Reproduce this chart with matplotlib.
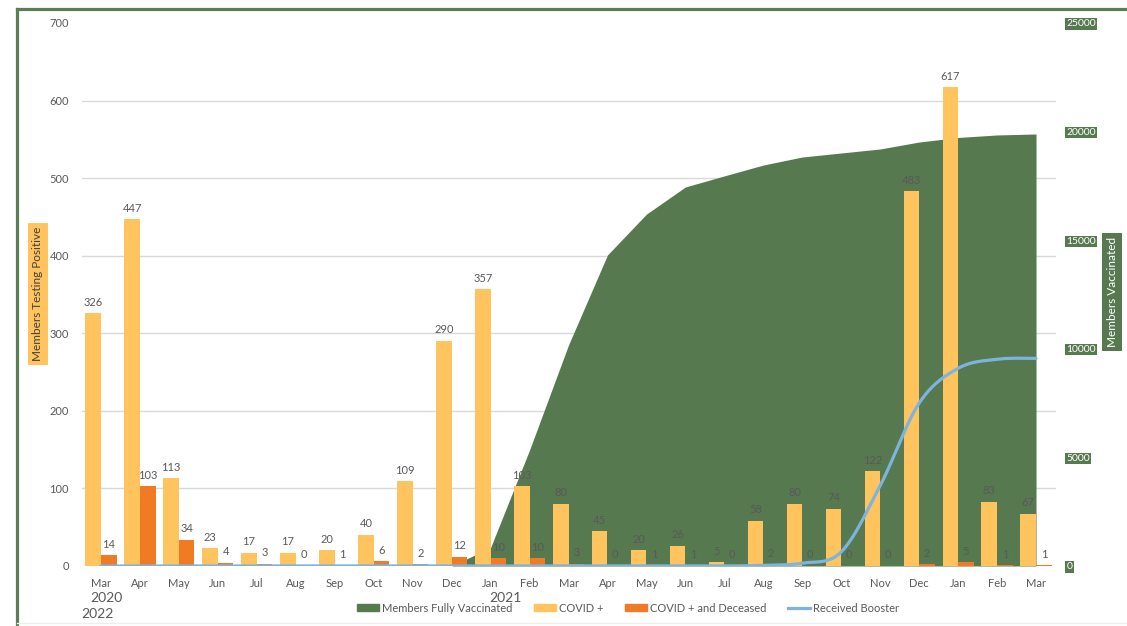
import numpy as np
import matplotlib.pyplot as plt
from matplotlib.patches import Patch
from matplotlib.lines import Line2D

months = ['Mar', 'Apr', 'May', 'Jun', 'Jul', 'Aug', 'Sep', 'Oct', 'Nov', 'Dec',
          'Jan', 'Feb', 'Mar', 'Apr', 'May', 'Jun', 'Jul', 'Aug', 'Sep', 'Oct', 'Nov', 'Dec',
          'Jan', 'Feb', 'Mar']
covid_pos = [326, 447, 113, 23, 17, 17, 20, 40, 109, 290,
             357, 103, 80, 45, 20, 26, 5, 58, 80, 74, 122, 483,
             617, 83, 67]
covid_dead = [14, 103, 34, 4, 3, 0, 1, 6, 2, 12,
              10, 10, 3, 0, 1, 1, 0, 2, 0, 0, 0, 2,
              5, 1, 1]
vaccinated = [0, 0, 0, 0, 0, 0, 0, 0, 0, 0,
              850, 5340, 10175, 14320, 16200, 17450, 17960, 18460, 18830, 19015, 19200, 19520,
              19730, 19845, 19890]
booster = [0, 0, 0, 0, 0, 0, 0, 0, 0, 0,
           0, 0, 0, 0, 0, 0, 0, 30, 130, 650, 3700, 7500,
           9100, 9520, 9560]

GREEN = '#57794F'
YELLOW = '#FFC45E'
ORANGE = '#F07B24'
BLUE = '#7CB4DF'
GRAY = '#595959'

plt.rcParams['font.family'] = ['Lato', 'DejaVu Sans']


def catmull_rom(xs, ys, n=24):
    # smoothed line like Excel's "smoothed line" option
    xs = np.asarray(xs, float)
    ys = np.asarray(ys, float)
    px = np.concatenate([[xs[0]], xs, [xs[-1]]])
    py = np.concatenate([[ys[0]], ys, [ys[-1]]])
    out_x, out_y = [], []
    t = np.linspace(0, 1, n, endpoint=False)
    for i in range(1, len(px) - 2):
        for p, out in ((px, out_x), (py, out_y)):
            p0, p1, p2, p3 = p[i - 1], p[i], p[i + 1], p[i + 2]
            out.extend(0.5 * ((2 * p1) + (-p0 + p2) * t
                              + (2 * p0 - 5 * p1 + 4 * p2 - p3) * t ** 2
                              + (-p0 + 3 * p1 - 3 * p2 + p3) * t ** 3))
    out_x.append(xs[-1])
    out_y.append(ys[-1])
    return np.array(out_x), np.array(out_y)


fig = plt.figure(figsize=(11.27, 6.26), dpi=100)
ax = fig.add_axes([0.07232, 0.09585, 0.86424, 0.86741])
ax2 = ax.twinx()
ax3 = ax.twinx()
ax2.set_zorder(0)
ax.set_zorder(1)
ax3.set_zorder(2)
ax.patch.set_visible(False)
ax3.patch.set_visible(False)

x = np.arange(len(months))

# area (right axis) with gridlines beneath it
ax2.fill_between(x, vaccinated, color=GREEN, linewidth=0, zorder=1)
ax2.set_ylim(0, 25000)
ax2.set_yticks(np.arange(0, 25001, 5000))
ax2.set_yticks([i * 25000 / 7 for i in range(8)], minor=True)
ax2.grid(which='minor', axis='y', color='#D9D9D9', linewidth=1)
ax2.set_axisbelow(True)
ax2.tick_params(axis='y', which='both', length=0)
ax2.tick_params(axis='y', which='major', labelsize=7.5, labelcolor='white', pad=8)
for lbl in ax2.get_yticklabels():
    lbl.set_bbox(dict(facecolor=GREEN, edgecolor='none', pad=0.8))

# bars (left axis)
b1 = ax.bar(x - 0.2, covid_pos, width=0.4, color=YELLOW, zorder=2)
b2 = ax.bar(x + 0.2, covid_dead, width=0.4, color=ORANGE, zorder=2)
ax.bar_label(b1, padding=4, fontsize=8, color=GRAY)
ax.bar_label(b2, padding=4, fontsize=8, color=GRAY)
ax.set_ylim(0, 700)
ax.set_yticks(range(0, 701, 100))
ax.set_xlim(-0.5, len(months) - 0.5)
ax.set_xticks(x)
ax.set_xticklabels(months)
ax.tick_params(length=0, labelsize=8, labelcolor=GRAY)
ax.tick_params(axis='x', pad=9)
ax.tick_params(axis='y', pad=9)

# booster line (right scale, on top)
sx, sy = catmull_rom(x, booster)
ax3.plot(sx, sy, color=BLUE, linewidth=2.3, solid_capstyle='round')
ax3.set_ylim(0, 25000)
ax3.set_xlim(-0.5, len(months) - 0.5)
ax3.axis('off')

for a in (ax, ax2, ax3):
    for s in a.spines.values():
        s.set_visible(False)

# year labels
tr = ax.get_xaxis_transform()
ax.text(0.15, -0.059, '2020', transform=tr, ha='center', va='center', fontsize=10, color=GRAY)
ax.text(-0.1, -0.088, '2022', transform=tr, ha='center', va='center', fontsize=10, color=GRAY)
ax.text(10.37, -0.059, '2021', transform=tr, ha='center', va='center', fontsize=10, color=GRAY)

# axis titles
fig.text(38 / 1127, 1 - 294 / 626, 'Members Testing Positive', rotation=90, ha='center', va='center',
         fontsize=8.5, color='#404040', bbox=dict(facecolor=YELLOW, edgecolor='none', pad=3))
fig.text(1112 / 1127, 1 - 292 / 626, 'Members Vaccinated', rotation=90, ha='center', va='center',
         fontsize=8.5, color='white', bbox=dict(facecolor=GREEN, edgecolor='none', pad=3))

handles = [Patch(color=GREEN), Patch(color=YELLOW), Patch(color=ORANGE),
           Line2D([], [], color=BLUE, linewidth=2.3)]
labels = ['Members Fully Vaccinated', 'COVID +', 'COVID + and Deceased', 'Received Booster']
leg = fig.legend(handles, labels, loc='center', bbox_to_anchor=(628 / 1127, 1 - 608 / 626), ncol=4,
                 frameon=False, fontsize=8, handlelength=2.0, handleheight=0.5,
                 handletextpad=0.3, columnspacing=1.9)
for t in leg.get_texts():
    t.set_color(GRAY)

# green frame around the chart
fy = 1 - 9 / 626
fx = 17.3 / 1127
fig.add_artist(Line2D([fx, fx], [0, fy], color='#5B7F52', linewidth=2.3, transform=fig.transFigure))
fig.add_artist(Line2D([fx, 1], [fy, fy], color='#5B7F52', linewidth=2.3, transform=fig.transFigure))
fig.add_artist(Line2D([fx, 1], [3 / 626, 3 / 626], color='#EEEEEE', linewidth=1, transform=fig.transFigure))

fig.savefig('out.png', dpi=100)
